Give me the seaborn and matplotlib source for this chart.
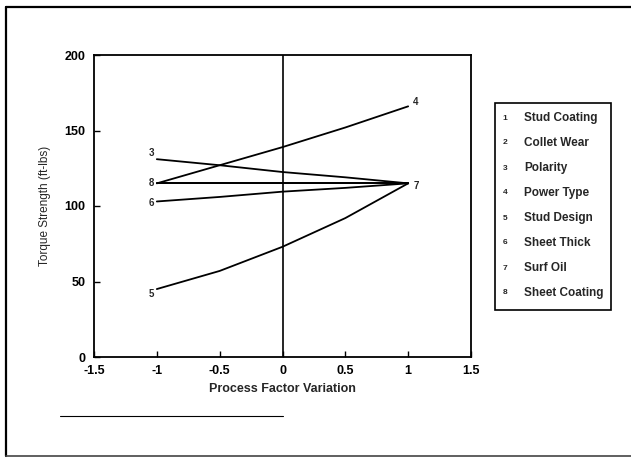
import matplotlib
matplotlib.use("Agg")
import matplotlib.pyplot as plt
import seaborn as sns
import pandas as pd
from matplotlib.patches import Rectangle
from matplotlib.lines import Line2D

sns.set_theme(style="white")
plt.rcParams['font.family'] = ['Liberation Sans', 'DejaVu Sans']

# ---- data ----
x_levels = [-1.0, -0.5, 0.0, 0.5, 1.0]
series_3 = [131, 127, 122.5, 119, 115]
series_4 = [115, 127, 139, 152, 166]
series_5 = [45, 57, 73, 92, 115]
series_6 = [103, 106, 109.5, 112, 115]
series_7 = [115, 115, 115, 115, 115]
series_8 = [115, 115, 115, 115, 115]
series_ids = ["3", "4", "5", "6", "7", "8"]
left_labels = ["3", "8", "6", "5"]
right_labels = ["4", "7"]
legend_numbers = ["1", "2", "3", "4", "5", "6", "7", "8"]
legend_names = ["Stud Coating", "Collet Wear", "Polarity", "Power Type",
                "Stud Design", "Sheet Thick", "Surf Oil", "Sheet Coating"]
x_ticks = [-1.5, -1, -0.5, 0, 0.5, 1, 1.5]
x_tick_labels = ["-1.5", "-1", "-0.5", "0", "0.5", "1", "1.5"]
y_ticks = [0, 50, 100, 150, 200]

all_series = [series_3, series_4, series_5, series_6, series_7, series_8]
rows = []
for sid, vals in zip(series_ids, all_series):
    for xv, yv in zip(x_levels, vals):
        rows.append({"x": xv, "y": yv, "factor": sid})
df = pd.DataFrame(rows)

fig = plt.figure(figsize=(6.31, 4.58), dpi=100)
ax = fig.add_axes([94/631, 1 - 357/458, (471-94)/631, (357-55)/458])

sns.lineplot(data=df, x="x", y="y", units="factor", estimator=None,
             color="black", linewidth=1.3, ax=ax, legend=False)

ax.axvline(0, color="black", linewidth=1.2)

ax.set_xlim(-1.5, 1.5)
ax.set_ylim(0, 200)
ax.set_xticks(x_ticks)
ax.set_xticklabels(x_tick_labels)
ax.set_yticks(y_ticks)
ax.tick_params(direction="in", length=4, width=1, colors="black",
               labelsize=9, pad=6, bottom=True, left=True)
for lab in ax.get_xticklabels() + ax.get_yticklabels():
    lab.set_fontweight("bold")
for sp in ax.spines.values():
    sp.set_color("black")
    sp.set_linewidth(1.3)
ax.set_xlabel("Process Factor Variation", fontsize=9, fontweight="bold", labelpad=4)
ax.set_ylabel("Torque Strength (ft-lbs)", fontsize=8.5, labelpad=10)

# line end labels
series_map = dict(zip(series_ids, all_series))
for sid in left_labels:
    off = {"3": 4, "8": 0, "6": -1, "5": -3}[sid]
    ax.text(x_levels[0] - 0.02, series_map[sid][0] + off, sid, ha="right", va="center",
            fontsize=7, fontweight="bold")
for sid in right_labels:
    off = {"4": 3, "7": -2}[sid]
    ax.text(x_levels[-1] + 0.04, series_map[sid][-1] + off, sid, ha="left", va="center",
            fontsize=7, fontweight="bold")

# legend box
W, H = 631, 458
fig.patches.append(Rectangle((495/W, 1 - 310/H), (611-495)/W, (310-103)/H,
                             transform=fig.transFigure, fill=False,
                             edgecolor="black", linewidth=1.2))
for i, (num, name) in enumerate(zip(legend_numbers, legend_names)):
    yy = 1 - (118 + i*25)/H
    fig.text(505/W, yy, num, fontsize=6, fontweight="bold", va="center", ha="center")
    fig.text(524/W, yy, name, fontsize=8.5, fontweight="bold", va="center", ha="left")

# outer frame
fig.add_artist(Line2D([6/W, 6/W], [1 - 7/H, 1 - 456/H], transform=fig.transFigure,
                      color="black", linewidth=1.6))
fig.add_artist(Line2D([6/W, 1.0], [1 - 7/H, 1 - 7/H], transform=fig.transFigure,
                      color="black", linewidth=1.6))
fig.add_artist(Line2D([6/W, 1.0], [1 - 456/H, 1 - 456/H], transform=fig.transFigure,
                      color="#444444", linewidth=1.2))
fig.add_artist(Line2D([60/W, 283/W], [1 - 416/H, 1 - 416/H], transform=fig.transFigure,
                      color="black", linewidth=0.8))

fig.savefig("out.png", dpi=100)
